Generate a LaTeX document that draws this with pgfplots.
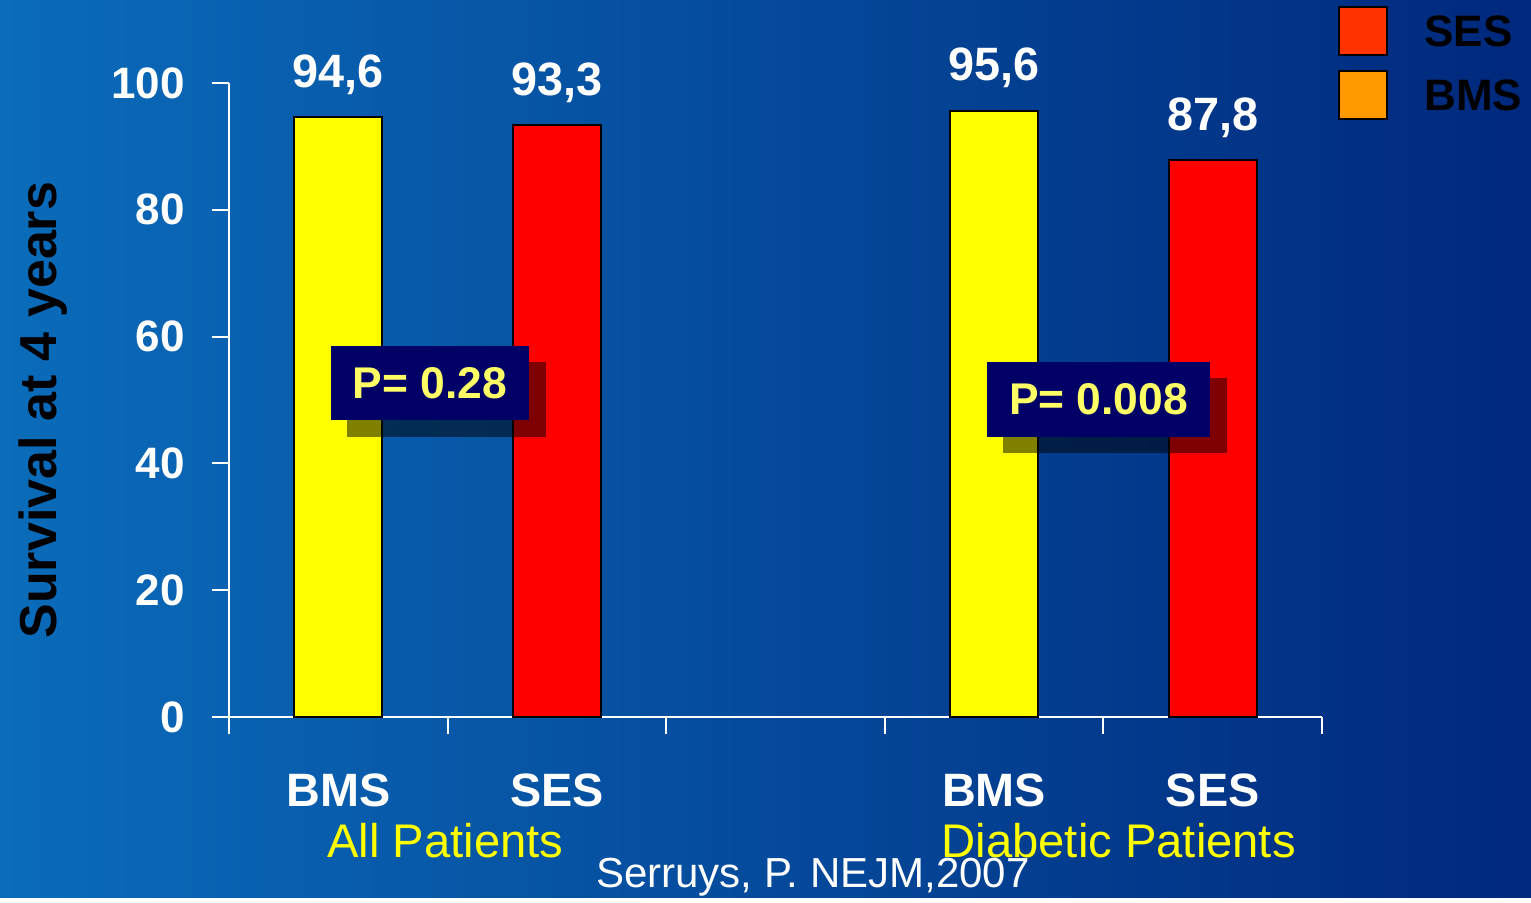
\documentclass[border=0pt]{standalone}
\usepackage{fontspec}
\setmainfont{Liberation Sans}
\usepackage{pgfplots}
\pgfplotsset{compat=1.18}
\definecolor{bgL}{HTML}{0A6CBA}
\definecolor{bgM}{HTML}{0552A4}
\definecolor{bgR}{HTML}{00287C}
\definecolor{barY}{HTML}{FFFF00}
\definecolor{barR}{HTML}{FF0000}
\definecolor{legR}{HTML}{FF3300}
\definecolor{legO}{HTML}{FF9900}
\definecolor{pbox}{HTML}{000066}
\definecolor{ptxt}{HTML}{FFFF66}
\begin{document}
\begin{tikzpicture}[x=1pt,y=1pt]
% background, 1px = 0.5pt
\shade[left color=bgL, middle color=bgM, right color=bgR] (0,0) rectangle (765.5,448.5);
\begin{axis}[
  at={(114.5pt,90pt)}, anchor=south west,
  scale only axis, width=546.5pt, height=317pt,
  xmin=0, xmax=5, ymin=0, ymax=100,
  clip=false,
  axis lines=left, axis line style={-, white, line width=1pt},
  tick style={white, line width=1pt}, tick align=outside, major tick length=8.5pt,
  xtick={0,1,2,3,4,5}, xticklabels={},
  ytick={0,20,40,60,80,100},
  yticklabel style={font=\fontsize{22}{26}\selectfont\bfseries, text=white, inner sep=0pt, xshift=-13.5pt},
  extra x ticks={0.5,1.5,3.5,4.5},
  extra x tick labels={BMS,SES,BMS,SES},
  extra x tick style={major tick length=0pt,
    xticklabel style={font=\fontsize{23.4}{28}\selectfont\bfseries, text=white, anchor=north, inner sep=0pt, yshift=-28pt}},
  ylabel={Survival at 4 years},
  ylabel style={at={(axis description cs:-0.1705,0.484)}, anchor=center, font=\fontsize{26}{30}\selectfont\bfseries, text=black},
  /pgf/number format/assume math mode=true,
  ybar, bar width=44pt, bar shift=0pt,
  nodes near coords,
  nodes near coords style={/pgf/number format/use comma, /pgf/number format/fixed, /pgf/number format/fixed zerofill, /pgf/number format/precision=1},
  every node near coord/.append style={font=\fontsize{23.4}{28}\selectfont\bfseries, text=white, anchor=base, inner sep=0pt, yshift=15pt},
]
\addplot[fill=barY, draw=black, line width=1pt] coordinates {(0.5,94.6) (3.5,95.6)};
\addplot[fill=barR, draw=black, line width=1pt] coordinates {(1.5,93.3) (4.5,87.8)};
\node[anchor=base, yshift=-70pt, text=barY, font=\fontsize{23.6}{28}\selectfont] at (axis cs:0.99,0) {All Patients};
\node[anchor=base, yshift=-70pt, text=barY, font=\fontsize{23.6}{28}\selectfont] at (axis cs:4.07,0) {Diabetic Patients};
\end{axis}
% citation
\node[anchor=base, text=white, font=\fontsize{21}{25}\selectfont] at (406.5,5) {Serruys, P. NEJM,2007};
% P-value boxes
\fill[black, opacity=0.5] (173.5,230) rectangle (273,267.5);
\fill[pbox] (165.5,238.5) rectangle (264.5,275.5);
\node[text=ptxt, font=\fontsize{22.2}{26}\selectfont\bfseries] at (215,257) {P= 0.28};
\fill[black, opacity=0.5] (501.5,222) rectangle (613.5,259.5);
\fill[pbox] (493.5,230) rectangle (605,267.5);
\node[text=ptxt, font=\fontsize{22.2}{26}\selectfont\bfseries] at (549.25,248.75) {P= 0.008};
% legend
\filldraw[fill=legR, draw=black, line width=1pt] (669.5,421) rectangle (693.5,445);
\filldraw[fill=legO, draw=black, line width=1pt] (669.5,389) rectangle (693.5,413);
\node[anchor=west, inner sep=0pt, text=black, font=\fontsize{22}{26}\selectfont\bfseries] at (712,433) {SES};
\node[anchor=west, inner sep=0pt, text=black, font=\fontsize{22}{26}\selectfont\bfseries] at (712,401) {BMS};
\end{tikzpicture}
\end{document}
